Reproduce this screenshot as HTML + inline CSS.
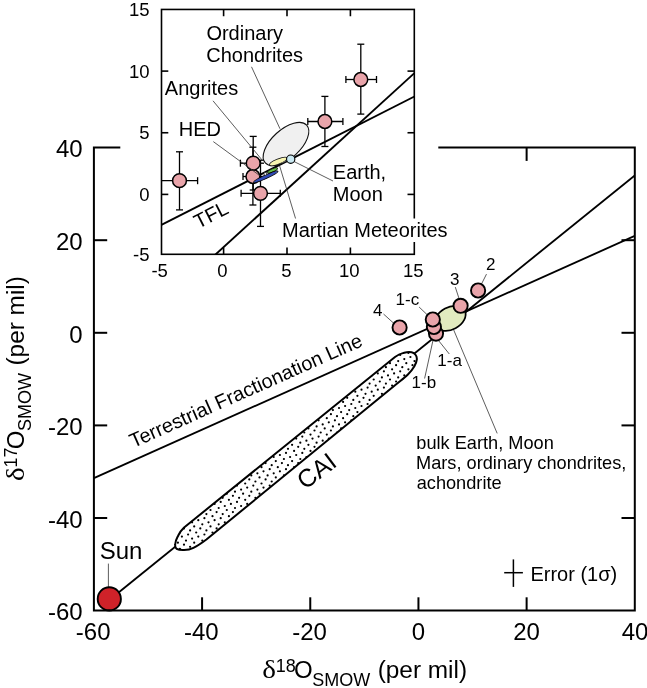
<!DOCTYPE html>
<html><head><meta charset="utf-8"><title>Oxygen isotopes</title>
<style>html,body{margin:0;padding:0;background:#fff}svg{display:block;will-change:transform}text{font-family:"Liberation Sans",sans-serif;fill:#000}</style>
</head><body>
<svg width="647" height="688" viewBox="0 0 647 688">
<rect width="647" height="688" fill="#fff"/>
<defs>
<clipPath id="mclip"><rect x="93.9" y="147.6" width="540.9" height="463.0"/></clipPath>
<clipPath id="iclip"><rect x="161.5" y="9.45" width="252.8" height="244.85000000000002"/></clipPath>
</defs>
<g clip-path="url(#mclip)">
<line x1="93.90" y1="478.20" x2="634.80" y2="235.90" stroke="#000" stroke-width="1.85" />
<line x1="109.30" y1="600.00" x2="634.80" y2="175.40" stroke="#000" stroke-width="1.85" />
</g>
<clipPath id="capclip"><path d="M184.1,527.5 L395,357 C400.0,353.5 401.4,353.6 404.2,352.8 C407.0,352.0 409.7,351.9 411.6,352.3 C413.5,352.7 414.8,353.8 415.7,355.0 C416.6,356.2 417.0,357.8 416.8,359.7 C416.6,361.6 415.9,363.7 414.4,366.2 C412.9,368.7 411.1,371.3 407.9,374.5 C404.7,377.7 400.3,380.9 395.0,385.3 L206.4,539.5 C201.1,543.5 197.1,546.1 193.4,547.9 C189.7,549.7 186.9,550.0 184.1,550.1 C181.3,550.2 178.2,549.8 176.7,548.8 C175.2,547.8 175.0,546.2 175.2,544.2 C175.3,542.2 176.1,539.6 177.6,536.8 C179.1,534.0 179.5,531.9 184.1,527.5 Z"/></clipPath>
<path d="M184.1,527.5 L395,357 C400.0,353.5 401.4,353.6 404.2,352.8 C407.0,352.0 409.7,351.9 411.6,352.3 C413.5,352.7 414.8,353.8 415.7,355.0 C416.6,356.2 417.0,357.8 416.8,359.7 C416.6,361.6 415.9,363.7 414.4,366.2 C412.9,368.7 411.1,371.3 407.9,374.5 C404.7,377.7 400.3,380.9 395.0,385.3 L206.4,539.5 C201.1,543.5 197.1,546.1 193.4,547.9 C189.7,549.7 186.9,550.0 184.1,550.1 C181.3,550.2 178.2,549.8 176.7,548.8 C175.2,547.8 175.0,546.2 175.2,544.2 C175.3,542.2 176.1,539.6 177.6,536.8 C179.1,534.0 179.5,531.9 184.1,527.5 Z" fill="#fff" stroke="none"/>
<g clip-path="url(#capclip)" fill="#000">
<circle cx="171.7" cy="534.5" r="1.1"/>
<circle cx="175.8" cy="538.6" r="1.1"/>
<circle cx="169.7" cy="540.6" r="1.1"/>
<circle cx="177.9" cy="542.7" r="1.1"/>
<circle cx="167.7" cy="544.7" r="1.1"/>
<circle cx="173.8" cy="546.8" r="1.1"/>
<circle cx="163.6" cy="548.8" r="1.1"/>
<circle cx="171.7" cy="550.8" r="1.1"/>
<circle cx="165.6" cy="552.9" r="1.1"/>
<circle cx="175.8" cy="554.9" r="1.1"/>
<circle cx="169.7" cy="557.0" r="1.1"/>
<circle cx="177.9" cy="559.0" r="1.1"/>
<circle cx="192.1" cy="522.3" r="1.1"/>
<circle cx="186.0" cy="524.3" r="1.1"/>
<circle cx="194.2" cy="526.4" r="1.1"/>
<circle cx="184.0" cy="528.4" r="1.1"/>
<circle cx="190.1" cy="530.4" r="1.1"/>
<circle cx="179.9" cy="532.5" r="1.1"/>
<circle cx="188.1" cy="534.5" r="1.1"/>
<circle cx="181.9" cy="536.6" r="1.1"/>
<circle cx="192.1" cy="538.6" r="1.1"/>
<circle cx="186.0" cy="540.6" r="1.1"/>
<circle cx="194.2" cy="542.7" r="1.1"/>
<circle cx="184.0" cy="544.7" r="1.1"/>
<circle cx="190.1" cy="546.8" r="1.1"/>
<circle cx="179.9" cy="548.8" r="1.1"/>
<circle cx="188.1" cy="550.8" r="1.1"/>
<circle cx="181.9" cy="552.9" r="1.1"/>
<circle cx="208.5" cy="506.0" r="1.1"/>
<circle cx="202.3" cy="508.0" r="1.1"/>
<circle cx="210.5" cy="510.0" r="1.1"/>
<circle cx="200.3" cy="512.1" r="1.1"/>
<circle cx="206.4" cy="514.1" r="1.1"/>
<circle cx="196.2" cy="516.2" r="1.1"/>
<circle cx="204.4" cy="518.2" r="1.1"/>
<circle cx="198.3" cy="520.2" r="1.1"/>
<circle cx="208.5" cy="522.3" r="1.1"/>
<circle cx="202.3" cy="524.3" r="1.1"/>
<circle cx="210.5" cy="526.4" r="1.1"/>
<circle cx="200.3" cy="528.4" r="1.1"/>
<circle cx="206.4" cy="530.4" r="1.1"/>
<circle cx="196.2" cy="532.5" r="1.1"/>
<circle cx="204.4" cy="534.5" r="1.1"/>
<circle cx="198.3" cy="536.6" r="1.1"/>
<circle cx="202.3" cy="540.6" r="1.1"/>
<circle cx="224.8" cy="489.6" r="1.1"/>
<circle cx="226.8" cy="493.7" r="1.1"/>
<circle cx="222.7" cy="497.8" r="1.1"/>
<circle cx="212.5" cy="499.8" r="1.1"/>
<circle cx="220.7" cy="501.9" r="1.1"/>
<circle cx="214.6" cy="503.9" r="1.1"/>
<circle cx="224.8" cy="506.0" r="1.1"/>
<circle cx="218.7" cy="508.0" r="1.1"/>
<circle cx="226.8" cy="510.0" r="1.1"/>
<circle cx="216.6" cy="512.1" r="1.1"/>
<circle cx="222.7" cy="514.1" r="1.1"/>
<circle cx="212.5" cy="516.2" r="1.1"/>
<circle cx="220.7" cy="518.2" r="1.1"/>
<circle cx="214.6" cy="520.2" r="1.1"/>
<circle cx="224.8" cy="522.3" r="1.1"/>
<circle cx="218.7" cy="524.3" r="1.1"/>
<circle cx="216.6" cy="528.4" r="1.1"/>
<circle cx="212.5" cy="532.5" r="1.1"/>
<circle cx="243.1" cy="477.4" r="1.1"/>
<circle cx="239.1" cy="481.5" r="1.1"/>
<circle cx="237.0" cy="485.6" r="1.1"/>
<circle cx="230.9" cy="487.6" r="1.1"/>
<circle cx="241.1" cy="489.6" r="1.1"/>
<circle cx="235.0" cy="491.7" r="1.1"/>
<circle cx="243.1" cy="493.7" r="1.1"/>
<circle cx="232.9" cy="495.8" r="1.1"/>
<circle cx="239.1" cy="497.8" r="1.1"/>
<circle cx="228.9" cy="499.8" r="1.1"/>
<circle cx="237.0" cy="501.9" r="1.1"/>
<circle cx="230.9" cy="503.9" r="1.1"/>
<circle cx="241.1" cy="506.0" r="1.1"/>
<circle cx="235.0" cy="508.0" r="1.1"/>
<circle cx="232.9" cy="512.1" r="1.1"/>
<circle cx="228.9" cy="516.2" r="1.1"/>
<circle cx="255.4" cy="465.2" r="1.1"/>
<circle cx="253.3" cy="469.2" r="1.1"/>
<circle cx="247.2" cy="471.3" r="1.1"/>
<circle cx="257.4" cy="473.3" r="1.1"/>
<circle cx="251.3" cy="475.4" r="1.1"/>
<circle cx="259.5" cy="477.4" r="1.1"/>
<circle cx="249.3" cy="479.4" r="1.1"/>
<circle cx="255.4" cy="481.5" r="1.1"/>
<circle cx="245.2" cy="483.5" r="1.1"/>
<circle cx="253.3" cy="485.6" r="1.1"/>
<circle cx="247.2" cy="487.6" r="1.1"/>
<circle cx="257.4" cy="489.6" r="1.1"/>
<circle cx="251.3" cy="491.7" r="1.1"/>
<circle cx="259.5" cy="493.7" r="1.1"/>
<circle cx="249.3" cy="495.8" r="1.1"/>
<circle cx="255.4" cy="497.8" r="1.1"/>
<circle cx="245.2" cy="499.8" r="1.1"/>
<circle cx="247.2" cy="503.9" r="1.1"/>
<circle cx="273.7" cy="457.0" r="1.1"/>
<circle cx="267.6" cy="459.0" r="1.1"/>
<circle cx="275.8" cy="461.1" r="1.1"/>
<circle cx="265.6" cy="463.1" r="1.1"/>
<circle cx="271.7" cy="465.2" r="1.1"/>
<circle cx="261.5" cy="467.2" r="1.1"/>
<circle cx="269.7" cy="469.2" r="1.1"/>
<circle cx="263.5" cy="471.3" r="1.1"/>
<circle cx="273.7" cy="473.3" r="1.1"/>
<circle cx="267.6" cy="475.4" r="1.1"/>
<circle cx="275.8" cy="477.4" r="1.1"/>
<circle cx="265.6" cy="479.4" r="1.1"/>
<circle cx="271.7" cy="481.5" r="1.1"/>
<circle cx="261.5" cy="483.5" r="1.1"/>
<circle cx="269.7" cy="485.6" r="1.1"/>
<circle cx="263.5" cy="487.6" r="1.1"/>
<circle cx="290.1" cy="440.7" r="1.1"/>
<circle cx="283.9" cy="442.7" r="1.1"/>
<circle cx="292.1" cy="444.8" r="1.1"/>
<circle cx="281.9" cy="446.8" r="1.1"/>
<circle cx="288.0" cy="448.8" r="1.1"/>
<circle cx="277.8" cy="450.9" r="1.1"/>
<circle cx="286.0" cy="452.9" r="1.1"/>
<circle cx="279.9" cy="455.0" r="1.1"/>
<circle cx="290.1" cy="457.0" r="1.1"/>
<circle cx="283.9" cy="459.0" r="1.1"/>
<circle cx="292.1" cy="461.1" r="1.1"/>
<circle cx="281.9" cy="463.1" r="1.1"/>
<circle cx="288.0" cy="465.2" r="1.1"/>
<circle cx="277.8" cy="467.2" r="1.1"/>
<circle cx="286.0" cy="469.2" r="1.1"/>
<circle cx="279.9" cy="471.3" r="1.1"/>
<circle cx="283.9" cy="475.4" r="1.1"/>
<circle cx="306.4" cy="424.4" r="1.1"/>
<circle cx="308.4" cy="428.4" r="1.1"/>
<circle cx="298.2" cy="430.5" r="1.1"/>
<circle cx="304.3" cy="432.5" r="1.1"/>
<circle cx="294.1" cy="434.6" r="1.1"/>
<circle cx="302.3" cy="436.6" r="1.1"/>
<circle cx="296.2" cy="438.6" r="1.1"/>
<circle cx="306.4" cy="440.7" r="1.1"/>
<circle cx="300.3" cy="442.7" r="1.1"/>
<circle cx="308.4" cy="444.8" r="1.1"/>
<circle cx="298.2" cy="446.8" r="1.1"/>
<circle cx="304.3" cy="448.8" r="1.1"/>
<circle cx="294.1" cy="450.9" r="1.1"/>
<circle cx="302.3" cy="452.9" r="1.1"/>
<circle cx="296.2" cy="455.0" r="1.1"/>
<circle cx="306.4" cy="457.0" r="1.1"/>
<circle cx="300.3" cy="459.0" r="1.1"/>
<circle cx="298.2" cy="463.1" r="1.1"/>
<circle cx="294.1" cy="467.2" r="1.1"/>
<circle cx="324.7" cy="412.1" r="1.1"/>
<circle cx="320.7" cy="416.2" r="1.1"/>
<circle cx="318.6" cy="420.3" r="1.1"/>
<circle cx="312.5" cy="422.3" r="1.1"/>
<circle cx="322.7" cy="424.4" r="1.1"/>
<circle cx="316.6" cy="426.4" r="1.1"/>
<circle cx="324.7" cy="428.4" r="1.1"/>
<circle cx="314.5" cy="430.5" r="1.1"/>
<circle cx="320.7" cy="432.5" r="1.1"/>
<circle cx="310.5" cy="434.6" r="1.1"/>
<circle cx="318.6" cy="436.6" r="1.1"/>
<circle cx="312.5" cy="438.6" r="1.1"/>
<circle cx="322.7" cy="440.7" r="1.1"/>
<circle cx="316.6" cy="442.7" r="1.1"/>
<circle cx="314.5" cy="446.8" r="1.1"/>
<circle cx="310.5" cy="450.9" r="1.1"/>
<circle cx="341.1" cy="395.8" r="1.1"/>
<circle cx="337.0" cy="399.9" r="1.1"/>
<circle cx="334.9" cy="404.0" r="1.1"/>
<circle cx="328.8" cy="406.0" r="1.1"/>
<circle cx="339.0" cy="408.0" r="1.1"/>
<circle cx="332.9" cy="410.1" r="1.1"/>
<circle cx="341.1" cy="412.1" r="1.1"/>
<circle cx="330.9" cy="414.2" r="1.1"/>
<circle cx="337.0" cy="416.2" r="1.1"/>
<circle cx="326.8" cy="418.2" r="1.1"/>
<circle cx="334.9" cy="420.3" r="1.1"/>
<circle cx="328.8" cy="422.3" r="1.1"/>
<circle cx="339.0" cy="424.4" r="1.1"/>
<circle cx="332.9" cy="426.4" r="1.1"/>
<circle cx="341.1" cy="428.4" r="1.1"/>
<circle cx="330.9" cy="430.5" r="1.1"/>
<circle cx="337.0" cy="432.5" r="1.1"/>
<circle cx="326.8" cy="434.6" r="1.1"/>
<circle cx="328.8" cy="438.6" r="1.1"/>
<circle cx="351.3" cy="387.6" r="1.1"/>
<circle cx="355.3" cy="391.7" r="1.1"/>
<circle cx="349.2" cy="393.8" r="1.1"/>
<circle cx="357.4" cy="395.8" r="1.1"/>
<circle cx="347.2" cy="397.8" r="1.1"/>
<circle cx="353.3" cy="399.9" r="1.1"/>
<circle cx="343.1" cy="401.9" r="1.1"/>
<circle cx="351.3" cy="404.0" r="1.1"/>
<circle cx="345.1" cy="406.0" r="1.1"/>
<circle cx="355.3" cy="408.0" r="1.1"/>
<circle cx="349.2" cy="410.1" r="1.1"/>
<circle cx="357.4" cy="412.1" r="1.1"/>
<circle cx="347.2" cy="414.2" r="1.1"/>
<circle cx="353.3" cy="416.2" r="1.1"/>
<circle cx="343.1" cy="418.2" r="1.1"/>
<circle cx="351.3" cy="420.3" r="1.1"/>
<circle cx="345.1" cy="422.3" r="1.1"/>
<circle cx="371.7" cy="375.4" r="1.1"/>
<circle cx="365.5" cy="377.4" r="1.1"/>
<circle cx="373.7" cy="379.5" r="1.1"/>
<circle cx="363.5" cy="381.5" r="1.1"/>
<circle cx="369.6" cy="383.6" r="1.1"/>
<circle cx="359.4" cy="385.6" r="1.1"/>
<circle cx="367.6" cy="387.6" r="1.1"/>
<circle cx="361.5" cy="389.7" r="1.1"/>
<circle cx="371.7" cy="391.7" r="1.1"/>
<circle cx="365.5" cy="393.8" r="1.1"/>
<circle cx="373.7" cy="395.8" r="1.1"/>
<circle cx="363.5" cy="397.8" r="1.1"/>
<circle cx="369.6" cy="399.9" r="1.1"/>
<circle cx="359.4" cy="401.9" r="1.1"/>
<circle cx="367.6" cy="404.0" r="1.1"/>
<circle cx="361.5" cy="406.0" r="1.1"/>
<circle cx="365.5" cy="410.1" r="1.1"/>
<circle cx="388.0" cy="359.1" r="1.1"/>
<circle cx="390.0" cy="363.2" r="1.1"/>
<circle cx="379.8" cy="365.2" r="1.1"/>
<circle cx="385.9" cy="367.2" r="1.1"/>
<circle cx="375.7" cy="369.3" r="1.1"/>
<circle cx="383.9" cy="371.3" r="1.1"/>
<circle cx="377.8" cy="373.4" r="1.1"/>
<circle cx="388.0" cy="375.4" r="1.1"/>
<circle cx="381.9" cy="377.4" r="1.1"/>
<circle cx="390.0" cy="379.5" r="1.1"/>
<circle cx="379.8" cy="381.5" r="1.1"/>
<circle cx="385.9" cy="383.6" r="1.1"/>
<circle cx="375.7" cy="385.6" r="1.1"/>
<circle cx="383.9" cy="387.6" r="1.1"/>
<circle cx="377.8" cy="389.7" r="1.1"/>
<circle cx="388.0" cy="391.7" r="1.1"/>
<circle cx="381.9" cy="393.8" r="1.1"/>
<circle cx="379.8" cy="397.8" r="1.1"/>
<circle cx="375.7" cy="401.9" r="1.1"/>
<circle cx="406.3" cy="346.8" r="1.1"/>
<circle cx="402.3" cy="350.9" r="1.1"/>
<circle cx="400.2" cy="355.0" r="1.1"/>
<circle cx="394.1" cy="357.0" r="1.1"/>
<circle cx="404.3" cy="359.1" r="1.1"/>
<circle cx="398.2" cy="361.1" r="1.1"/>
<circle cx="406.3" cy="363.2" r="1.1"/>
<circle cx="396.1" cy="365.2" r="1.1"/>
<circle cx="402.3" cy="367.2" r="1.1"/>
<circle cx="392.1" cy="369.3" r="1.1"/>
<circle cx="400.2" cy="371.3" r="1.1"/>
<circle cx="394.1" cy="373.4" r="1.1"/>
<circle cx="404.3" cy="375.4" r="1.1"/>
<circle cx="398.2" cy="377.4" r="1.1"/>
<circle cx="396.1" cy="381.5" r="1.1"/>
<circle cx="392.1" cy="385.6" r="1.1"/>
<circle cx="416.5" cy="338.7" r="1.1"/>
<circle cx="410.4" cy="340.7" r="1.1"/>
<circle cx="420.6" cy="342.8" r="1.1"/>
<circle cx="414.5" cy="344.8" r="1.1"/>
<circle cx="422.7" cy="346.8" r="1.1"/>
<circle cx="412.5" cy="348.9" r="1.1"/>
<circle cx="418.6" cy="350.9" r="1.1"/>
<circle cx="408.4" cy="353.0" r="1.1"/>
<circle cx="416.5" cy="355.0" r="1.1"/>
<circle cx="410.4" cy="357.0" r="1.1"/>
<circle cx="420.6" cy="359.1" r="1.1"/>
<circle cx="414.5" cy="361.1" r="1.1"/>
<circle cx="422.7" cy="363.2" r="1.1"/>
<circle cx="412.5" cy="365.2" r="1.1"/>
<circle cx="418.6" cy="367.2" r="1.1"/>
<circle cx="408.4" cy="369.3" r="1.1"/>
<circle cx="410.4" cy="373.4" r="1.1"/>
<circle cx="428.8" cy="348.9" r="1.1"/>
<circle cx="424.7" cy="353.0" r="1.1"/>
<circle cx="426.7" cy="357.0" r="1.1"/>
</g>
<path d="M184.1,527.5 L395,357 C400.0,353.5 401.4,353.6 404.2,352.8 C407.0,352.0 409.7,351.9 411.6,352.3 C413.5,352.7 414.8,353.8 415.7,355.0 C416.6,356.2 417.0,357.8 416.8,359.7 C416.6,361.6 415.9,363.7 414.4,366.2 C412.9,368.7 411.1,371.3 407.9,374.5 C404.7,377.7 400.3,380.9 395.0,385.3 L206.4,539.5 C201.1,543.5 197.1,546.1 193.4,547.9 C189.7,549.7 186.9,550.0 184.1,550.1 C181.3,550.2 178.2,549.8 176.7,548.8 C175.2,547.8 175.0,546.2 175.2,544.2 C175.3,542.2 176.1,539.6 177.6,536.8 C179.1,534.0 179.5,531.9 184.1,527.5 Z" fill="none" stroke="#000" stroke-width="2.0" stroke-linejoin="round"/>
<line x1="486.50" y1="274.10" x2="481.00" y2="285.00" stroke="#333" stroke-width="0.8" />
<line x1="455.30" y1="287.10" x2="459.50" y2="300.00" stroke="#333" stroke-width="0.8" />
<line x1="419.10" y1="307.00" x2="428.00" y2="315.50" stroke="#333" stroke-width="0.8" />
<line x1="383.50" y1="314.00" x2="394.00" y2="323.50" stroke="#333" stroke-width="0.8" />
<line x1="449.30" y1="354.00" x2="438.50" y2="340.50" stroke="#333" stroke-width="0.8" />
<line x1="424.60" y1="378.50" x2="433.50" y2="338.00" stroke="#333" stroke-width="0.8" />
<line x1="453.50" y1="329.50" x2="497.20" y2="433.40" stroke="#333" stroke-width="0.8" />
<line x1="108.40" y1="563.60" x2="108.40" y2="590.00" stroke="#333" stroke-width="0.8" />
<ellipse cx="450.3" cy="318.4" rx="16.3" ry="11.2" transform="rotate(-28 450.3 318.4)" fill="#e1eabf" stroke="#000" stroke-width="1.7"/>
<circle cx="436.0" cy="333.6" r="7.1" fill="#e9a4aa" stroke="#000" stroke-width="1.9"/>
<circle cx="433.9" cy="327.0" r="7.1" fill="#e9a4aa" stroke="#000" stroke-width="1.9"/>
<circle cx="432.8" cy="319.5" r="7.1" fill="#e9a4aa" stroke="#000" stroke-width="1.9"/>
<circle cx="399.6" cy="327.5" r="7.1" fill="#e9a4aa" stroke="#000" stroke-width="1.9"/>
<circle cx="460.6" cy="305.8" r="7.1" fill="#e9a4aa" stroke="#000" stroke-width="1.9"/>
<circle cx="478.1" cy="290.5" r="7.1" fill="#e9a4aa" stroke="#000" stroke-width="1.9"/>
<circle cx="109.3" cy="598.9" r="11.6" fill="#cf2229" stroke="#000" stroke-width="1.9"/>
<path d="M120.3,147.6 H93.9 V610.6 H634.8 V147.6 H438.3" fill="none" stroke="#000" stroke-width="2.0" stroke-linejoin="miter"/>
<line x1="202.08" y1="610.60" x2="202.08" y2="597.30" stroke="#000" stroke-width="2.0" />
<line x1="93.90" y1="518.00" x2="107.20" y2="518.00" stroke="#000" stroke-width="2.0" />
<line x1="634.80" y1="518.00" x2="621.50" y2="518.00" stroke="#000" stroke-width="2.0" />
<line x1="310.26" y1="610.60" x2="310.26" y2="597.30" stroke="#000" stroke-width="2.0" />
<line x1="93.90" y1="425.40" x2="107.20" y2="425.40" stroke="#000" stroke-width="2.0" />
<line x1="634.80" y1="425.40" x2="621.50" y2="425.40" stroke="#000" stroke-width="2.0" />
<line x1="418.44" y1="610.60" x2="418.44" y2="597.30" stroke="#000" stroke-width="2.0" />
<line x1="93.90" y1="332.80" x2="107.20" y2="332.80" stroke="#000" stroke-width="2.0" />
<line x1="634.80" y1="332.80" x2="621.50" y2="332.80" stroke="#000" stroke-width="2.0" />
<line x1="526.62" y1="610.60" x2="526.62" y2="597.30" stroke="#000" stroke-width="2.0" />
<line x1="93.90" y1="240.20" x2="107.20" y2="240.20" stroke="#000" stroke-width="2.0" />
<line x1="634.80" y1="240.20" x2="621.50" y2="240.20" stroke="#000" stroke-width="2.0" />
<line x1="526.62" y1="147.60" x2="526.62" y2="160.90" stroke="#000" stroke-width="2.0" />
<text transform="translate(47.98,620.30)" font-family="Liberation Sans" font-size="24" >-60</text>
<text transform="translate(75.80,640.20)" font-family="Liberation Sans" font-size="24" >-60</text>
<text transform="translate(47.98,527.70)" font-family="Liberation Sans" font-size="24" >-40</text>
<text transform="translate(183.98,640.20)" font-family="Liberation Sans" font-size="24" >-40</text>
<text transform="translate(47.98,435.10)" font-family="Liberation Sans" font-size="24" >-20</text>
<text transform="translate(292.16,640.20)" font-family="Liberation Sans" font-size="24" >-20</text>
<text transform="translate(69.34,342.50)" font-family="Liberation Sans" font-size="24" >0</text>
<text transform="translate(411.78,640.20)" font-family="Liberation Sans" font-size="24" >0</text>
<text transform="translate(56.02,249.90)" font-family="Liberation Sans" font-size="24" >20</text>
<text transform="translate(513.18,640.20)" font-family="Liberation Sans" font-size="24" >20</text>
<text transform="translate(56.02,157.30)" font-family="Liberation Sans" font-size="24" >40</text>
<text transform="translate(621.66,640.20)" font-family="Liberation Sans" font-size="24" >40</text>
<rect x="161.5" y="9.45" width="252.8" height="244.85000000000002" fill="#fff"/>
<g clip-path="url(#iclip)">
<line x1="161.40" y1="224.80" x2="414.40" y2="96.50" stroke="#000" stroke-width="1.9" />
<line x1="195.72" y1="272.53" x2="414.40" y2="73.10" stroke="#000" stroke-width="1.9" />
</g>
<line x1="161.40" y1="180.70" x2="197.60" y2="180.70" stroke="#000" stroke-width="1.3" />
<line x1="197.60" y1="177.20" x2="197.60" y2="184.20" stroke="#000" stroke-width="1.3" />
<line x1="179.50" y1="151.80" x2="179.50" y2="209.90" stroke="#000" stroke-width="1.3" />
<line x1="176.00" y1="151.80" x2="183.00" y2="151.80" stroke="#000" stroke-width="1.3" />
<line x1="176.00" y1="209.90" x2="183.00" y2="209.90" stroke="#000" stroke-width="1.3" />
<line x1="240.40" y1="163.20" x2="264.00" y2="163.20" stroke="#000" stroke-width="1.3" />
<line x1="240.40" y1="159.70" x2="240.40" y2="166.70" stroke="#000" stroke-width="1.3" />
<line x1="253.20" y1="136.40" x2="253.20" y2="190.00" stroke="#000" stroke-width="1.3" />
<line x1="249.70" y1="136.40" x2="256.70" y2="136.40" stroke="#000" stroke-width="1.3" />
<line x1="249.70" y1="190.00" x2="256.70" y2="190.00" stroke="#000" stroke-width="1.3" />
<line x1="243.00" y1="176.50" x2="262.00" y2="176.50" stroke="#000" stroke-width="1.3" />
<line x1="243.00" y1="173.00" x2="243.00" y2="180.00" stroke="#000" stroke-width="1.3" />
<line x1="252.90" y1="147.20" x2="252.90" y2="205.00" stroke="#000" stroke-width="1.3" />
<line x1="249.40" y1="147.20" x2="256.40" y2="147.20" stroke="#000" stroke-width="1.3" />
<line x1="249.40" y1="205.00" x2="256.40" y2="205.00" stroke="#000" stroke-width="1.3" />
<line x1="241.10" y1="193.30" x2="280.30" y2="193.30" stroke="#000" stroke-width="1.3" />
<line x1="241.10" y1="189.80" x2="241.10" y2="196.80" stroke="#000" stroke-width="1.3" />
<line x1="280.30" y1="189.80" x2="280.30" y2="196.80" stroke="#000" stroke-width="1.3" />
<line x1="260.50" y1="160.20" x2="260.50" y2="226.40" stroke="#000" stroke-width="1.3" />
<line x1="257.00" y1="160.20" x2="264.00" y2="160.20" stroke="#000" stroke-width="1.3" />
<line x1="257.00" y1="226.40" x2="264.00" y2="226.40" stroke="#000" stroke-width="1.3" />
<line x1="307.80" y1="121.50" x2="342.90" y2="121.50" stroke="#000" stroke-width="1.3" />
<line x1="307.80" y1="118.00" x2="307.80" y2="125.00" stroke="#000" stroke-width="1.3" />
<line x1="342.90" y1="118.00" x2="342.90" y2="125.00" stroke="#000" stroke-width="1.3" />
<line x1="324.90" y1="96.40" x2="324.90" y2="146.50" stroke="#000" stroke-width="1.3" />
<line x1="321.40" y1="96.40" x2="328.40" y2="96.40" stroke="#000" stroke-width="1.3" />
<line x1="321.40" y1="146.50" x2="328.40" y2="146.50" stroke="#000" stroke-width="1.3" />
<line x1="345.90" y1="79.50" x2="376.50" y2="79.50" stroke="#000" stroke-width="1.3" />
<line x1="345.90" y1="76.00" x2="345.90" y2="83.00" stroke="#000" stroke-width="1.3" />
<line x1="376.50" y1="76.00" x2="376.50" y2="83.00" stroke="#000" stroke-width="1.3" />
<line x1="360.80" y1="44.20" x2="360.80" y2="114.10" stroke="#000" stroke-width="1.3" />
<line x1="357.30" y1="44.20" x2="364.30" y2="44.20" stroke="#000" stroke-width="1.3" />
<line x1="357.30" y1="114.10" x2="364.30" y2="114.10" stroke="#000" stroke-width="1.3" />
<circle cx="179.5" cy="180.7" r="6.9" fill="#e9a4aa" stroke="#000" stroke-width="1.5"/>
<circle cx="260.5" cy="193.3" r="6.9" fill="#e9a4aa" stroke="#000" stroke-width="1.5"/>
<circle cx="252.9" cy="176.5" r="6.9" fill="#e9a4aa" stroke="#000" stroke-width="1.5"/>
<circle cx="253.2" cy="163.2" r="6.9" fill="#e9a4aa" stroke="#000" stroke-width="1.5"/>
<circle cx="324.9" cy="121.5" r="6.9" fill="#e9a4aa" stroke="#000" stroke-width="1.5"/>
<circle cx="360.8" cy="79.5" r="6.9" fill="#e9a4aa" stroke="#000" stroke-width="1.5"/>
<line x1="251.50" y1="66.80" x2="280.00" y2="128.80" stroke="#333" stroke-width="0.8" />
<line x1="213.00" y1="100.80" x2="262.50" y2="160.50" stroke="#333" stroke-width="0.8" />
<line x1="213.30" y1="141.60" x2="259.90" y2="175.70" stroke="#333" stroke-width="0.8" />
<line x1="293.00" y1="161.00" x2="333.00" y2="181.00" stroke="#333" stroke-width="0.8" />
<line x1="279.60" y1="165.80" x2="296.00" y2="220.00" stroke="#333" stroke-width="0.8" />
<ellipse cx="286" cy="144.05" rx="28" ry="14.3" transform="rotate(-42.4 286 144.05)" fill="#f0f0f0" stroke="#111" stroke-width="1.1"/>
<ellipse cx="278.3" cy="161.5" rx="9.4" ry="2.5" transform="rotate(-21.7 278.3 161.5)" fill="#f7f5b0" stroke="#111" stroke-width="0.9"/>
<ellipse cx="272.5" cy="170.4" rx="5.6" ry="1.6" transform="rotate(-22.7 272.5 170.4)" fill="#66c044" stroke="#111" stroke-width="0.8"/>
<ellipse cx="265.8" cy="176.8" rx="13.4" ry="1.8" transform="rotate(-24.5 265.8 176.8)" fill="#2f49b5" stroke="#000" stroke-width="0.9"/>
<circle cx="265.3" cy="173.9" r="1.4" fill="#fff" stroke="#111" stroke-width="0.7"/>
<circle cx="290.7" cy="159.2" r="4.15" fill="#c9e8f2" stroke="#000" stroke-width="1.1"/>
<rect x="161.5" y="9.45" width="252.8" height="244.85000000000002" fill="none" stroke="#000" stroke-width="1.6"/>
<line x1="223.60" y1="254.30" x2="223.60" y2="247.50" stroke="#000" stroke-width="1.6" />
<line x1="223.60" y1="9.45" x2="223.60" y2="16.25" stroke="#000" stroke-width="1.6" />
<line x1="161.50" y1="194.40" x2="168.30" y2="194.40" stroke="#000" stroke-width="1.6" />
<line x1="414.30" y1="194.40" x2="407.50" y2="194.40" stroke="#000" stroke-width="1.6" />
<line x1="287.00" y1="254.30" x2="287.00" y2="247.50" stroke="#000" stroke-width="1.6" />
<line x1="287.00" y1="9.45" x2="287.00" y2="16.25" stroke="#000" stroke-width="1.6" />
<line x1="161.50" y1="132.75" x2="168.30" y2="132.75" stroke="#000" stroke-width="1.6" />
<line x1="414.30" y1="132.75" x2="407.50" y2="132.75" stroke="#000" stroke-width="1.6" />
<line x1="350.40" y1="254.30" x2="350.40" y2="247.50" stroke="#000" stroke-width="1.6" />
<line x1="350.40" y1="9.45" x2="350.40" y2="16.25" stroke="#000" stroke-width="1.6" />
<line x1="161.50" y1="71.10" x2="168.30" y2="71.10" stroke="#000" stroke-width="1.6" />
<line x1="414.30" y1="71.10" x2="407.50" y2="71.10" stroke="#000" stroke-width="1.6" />
<text transform="translate(133.07,261.10)" font-family="Liberation Sans" font-size="18.5" >-5</text>
<text transform="translate(151.42,277.20)" font-family="Liberation Sans" font-size="18.5" >-5</text>
<text transform="translate(139.27,201.10)" font-family="Liberation Sans" font-size="18.5" >0</text>
<text transform="translate(217.37,277.20)" font-family="Liberation Sans" font-size="18.5" >0</text>
<text transform="translate(139.27,139.45)" font-family="Liberation Sans" font-size="18.5" >5</text>
<text transform="translate(281.17,277.20)" font-family="Liberation Sans" font-size="18.5" >5</text>
<text transform="translate(129.01,77.80)" font-family="Liberation Sans" font-size="18.5" >10</text>
<text transform="translate(338.91,277.20)" font-family="Liberation Sans" font-size="18.5" >10</text>
<text transform="translate(129.01,16.15)" font-family="Liberation Sans" font-size="18.5" >15</text>
<text transform="translate(402.91,277.20)" font-family="Liberation Sans" font-size="18.5" >15</text>
<rect x="281" y="218.5" width="169" height="23.5" fill="#fff"/>
<text transform="translate(206.40,39.70)" font-family="Liberation Sans" font-size="20" >Ordinary</text>
<text transform="translate(206.30,62.00)" font-family="Liberation Sans" font-size="20" >Chondrites</text>
<text transform="translate(164.80,95.40)" font-family="Liberation Sans" font-size="20" >Angrites</text>
<text transform="translate(178.80,136.20)" font-family="Liberation Sans" font-size="20" >HED</text>
<text transform="translate(332.80,179.10)" font-family="Liberation Sans" font-size="20" >Earth,</text>
<text transform="translate(332.80,201.10)" font-family="Liberation Sans" font-size="20" >Moon</text>
<text transform="translate(282.00,236.90)" font-family="Liberation Sans" font-size="20" >Martian Meteorites</text>
<text transform="translate(198.30,228.90) rotate(-27)" font-size="20">TFL</text>
<text transform="translate(99.72,558.90)" font-family="Liberation Sans" font-size="24" >Sun</text>
<text transform="translate(305.00,490.30) rotate(-37)" font-size="25">CAI</text>
<text transform="translate(133.30,448.00) rotate(-24)" font-size="20">Terrestrial Fractionation Line</text>
<text transform="translate(416.32,448.60)" font-family="Liberation Sans" font-size="18.2" >bulk Earth, Moon</text>
<text transform="translate(416.04,468.80)" font-family="Liberation Sans" font-size="18.2" >Mars, ordinary chondrites,</text>
<text transform="translate(416.68,488.70)" font-family="Liberation Sans" font-size="18.2" >achondrite</text>
<text transform="translate(530.40,581.10)" font-family="Liberation Sans" font-size="20" >Error (1σ)</text>
<text transform="translate(485.95,270.00)" font-family="Liberation Sans" font-size="17" >2</text>
<text transform="translate(449.92,284.70)" font-family="Liberation Sans" font-size="17" >3</text>
<text transform="translate(372.88,316.30)" font-family="Liberation Sans" font-size="17" >4</text>
<text transform="translate(395.53,305.10)" font-family="Liberation Sans" font-size="17" >1-c</text>
<text transform="translate(437.33,365.50)" font-family="Liberation Sans" font-size="17" >1-a</text>
<text transform="translate(411.53,388.20)" font-family="Liberation Sans" font-size="17" >1-b</text>
<line x1="513.40" y1="559.40" x2="513.40" y2="586.90" stroke="#000" stroke-width="1.5" />
<line x1="504.20" y1="572.70" x2="522.90" y2="572.70" stroke="#000" stroke-width="1.5" />
<g transform="translate(262.2,678.5)">
<text transform="translate(-0.06,-0.20) scale(1.12,1)" font-size="26" style="font-family:'Liberation Serif',serif">δ</text>
<text transform="translate(13.55,-6.60)" font-size="18">18</text>
<text transform="translate(31.82,-0.10)" font-size="24">O</text>
<text transform="translate(49.99,7.10)" font-size="18">SMOW</text>
<text transform="translate(115.44,-0.10)" font-size="24.4">(per mil)</text>
</g>
<g transform="translate(24.0,481.0) rotate(-90)">
<text transform="translate(-0.06,-0.20) scale(1.12,1)" font-size="26" style="font-family:'Liberation Serif',serif">δ</text>
<text transform="translate(13.55,-6.60)" font-size="18">17</text>
<text transform="translate(31.82,-0.10)" font-size="24">O</text>
<text transform="translate(49.99,7.10)" font-size="18">SMOW</text>
<text transform="translate(115.44,-0.10)" font-size="24.4">(per mil)</text>
</g>
</svg></body></html>
